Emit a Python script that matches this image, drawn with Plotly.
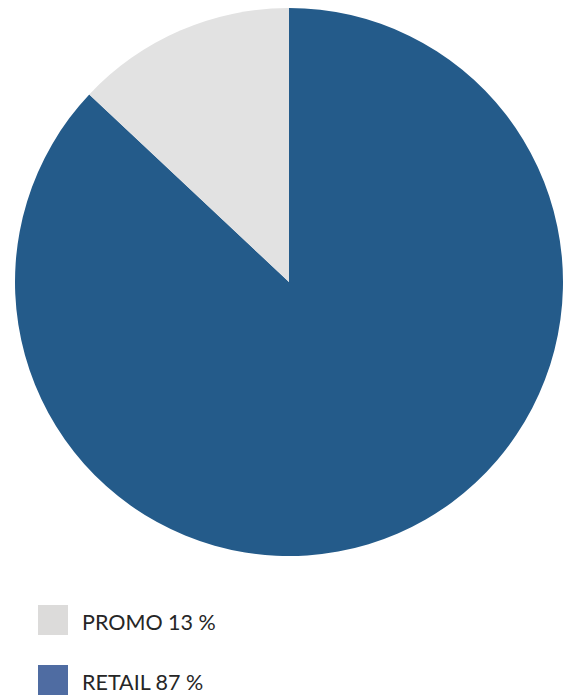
import plotly.graph_objects as go

labels = ["PROMO", "RETAIL"]
values = [13, 87]
pie_colors = ["#e2e2e2", "#245b8a"]
legend_colors = ["#dcdbda", "#4f6ca2"]

W, H = 563, 695


def px_x(x):
    return x / W


def px_y(y):
    return 1 - y / H


fig = go.Figure()
fig.add_trace(go.Pie(
    labels=labels[::-1], values=values[::-1], sort=False, direction="clockwise", rotation=0,
    marker=dict(colors=pie_colors[::-1], line=dict(width=0)),
    textinfo="none", hoverinfo="label+percent", showlegend=False,
    domain=dict(x=[px_x(15), px_x(563)], y=[px_y(556), px_y(8)]),
))

shapes = []
annotations = []
for i, (lab, val, col) in enumerate(zip(labels, values, legend_colors)):
    top = 605 + i * 60
    shapes.append(dict(type="rect", xref="paper", yref="paper",
                       x0=px_x(38), x1=px_x(68), y0=px_y(top + 30), y1=px_y(top),
                       fillcolor=col, line=dict(width=0)))
    annotations.append(dict(xref="paper", yref="paper", x=px_x(80), y=px_y(top + 17),
                            xanchor="left", yanchor="middle", showarrow=False,
                            text=f"{lab} {val} %",
                            font=dict(family="Lato, Liberation Sans, sans-serif", size=21.5, color="#262626")))

fig.update_layout(width=W, height=H, margin=dict(l=0, r=0, t=0, b=0),
                  paper_bgcolor="white", plot_bgcolor="white",
                  shapes=shapes, annotations=annotations, showlegend=False)
fig.write_html("out.html", config={"displayModeBar": False},
               post_script="document.body.style.margin='0';document.body.style.overflow='hidden';")
